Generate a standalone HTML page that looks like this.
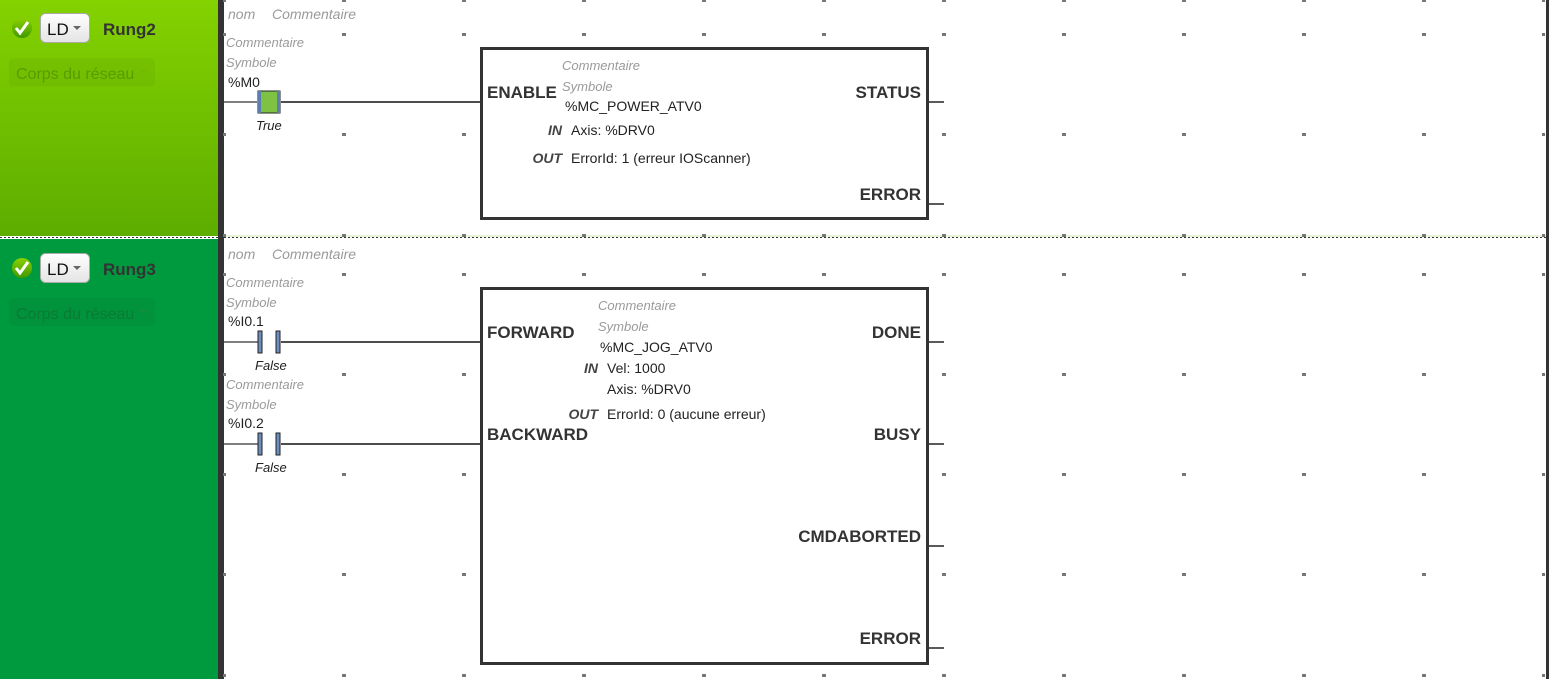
<!DOCTYPE html>
<html><head><meta charset="utf-8"><style>
html,body{margin:0;padding:0;background:#fff;}
svg{display:block;font-family:"Liberation Sans",sans-serif;}
.it{font-style:italic;fill:#9a9a9a;font-size:13px;}
.hd{font-style:italic;fill:#9a9a9a;font-size:14px;}
.tx{fill:#222;font-size:14px;}
.pin{font-weight:bold;fill:#333;font-size:17px;}
.io{font-weight:bold;font-style:italic;fill:#444;font-size:14px;}
</style></head><body>
<svg width="1549" height="679" viewBox="0 0 1549 679">
<defs>
<linearGradient id="g2" x1="0" y1="0" x2="0" y2="1"><stop offset="0" stop-color="#84d200"/><stop offset="1" stop-color="#5dad00"/></linearGradient>
<linearGradient id="cb" x1="0" y1="0" x2="0" y2="1"><stop offset="0" stop-color="#ffffff"/><stop offset="1" stop-color="#e4e4e4"/></linearGradient>
<linearGradient id="ck" x1="0" y1="0" x2="0" y2="1"><stop offset="0" stop-color="#8bd000"/><stop offset="1" stop-color="#3f9a00"/></linearGradient>
</defs>
<rect x="0" y="0" width="218" height="236" fill="url(#g2)"/>
<rect x="0" y="239" width="218" height="440" fill="#009a3e"/>
<rect x="218" y="0" width="6" height="679" fill="#333"/>
<rect x="1546" y="0" width="3" height="679" fill="#333"/>
<line x1="0" y1="237.5" x2="1549" y2="237.5" stroke="#333" stroke-width="1" stroke-dasharray="2,2"/>
<line x1="224" y1="236" x2="1546" y2="236" stroke="#cfe8b0" stroke-width="1"/>

<circle cx="22" cy="28" r="10" fill="url(#ck)"/>
<path d="M16 28 l4 5 l8 -11" stroke="#fff" stroke-width="3" fill="none"/>
<rect x="40.5" y="13.5" width="49" height="29" rx="5" fill="url(#cb)" stroke="#aaa"/>
<text x="47" y="35" font-size="17" fill="#111">LD</text>
<path d="M73 26 h8 l-4 4z" fill="#666"/>
<text x="103" y="35" font-size="17" font-weight="bold" fill="#333">Rung2</text>
<rect x="9" y="58" width="146" height="28" rx="4" fill="#000" opacity="0.04"/>
<text x="16" y="79" font-size="16" fill="#5a9b00">Corps du réseau</text>
<path d="M140 70 h7 l-3.5 3.5z" fill="#76b800"/>

<circle cx="22" cy="268" r="10" fill="url(#ck)"/>
<path d="M16 268 l4 5 l8 -11" stroke="#fff" stroke-width="3" fill="none"/>
<rect x="40.5" y="253.5" width="49" height="29" rx="5" fill="url(#cb)" stroke="#aaa"/>
<text x="47" y="275" font-size="17" fill="#111">LD</text>
<path d="M73 266 h8 l-4 4z" fill="#666"/>
<text x="103" y="275" font-size="17" font-weight="bold" fill="#333">Rung3</text>
<rect x="9" y="298" width="146" height="28" rx="4" fill="#000" opacity="0.04"/>
<text x="16" y="319" font-size="16" fill="#0b7a33">Corps du réseau</text>
<path d="M140 310 h7 l-3.5 3.5z" fill="#1a8a40"/>

<g fill="#777">
<g id="row">
<rect x="223" y="-1" width="3" height="3"/><rect x="342" y="-1" width="4" height="3"/><rect x="462" y="-1" width="4" height="3"/><rect x="582" y="-1" width="4" height="3"/><rect x="702" y="-1" width="4" height="3"/><rect x="822" y="-1" width="4" height="3"/><rect x="942" y="-1" width="4" height="3"/><rect x="1062" y="-1" width="4" height="3"/><rect x="1182" y="-1" width="4" height="3"/><rect x="1302" y="-1" width="4" height="3"/><rect x="1422" y="-1" width="4" height="3"/><rect x="1542" y="-1" width="3" height="3"/>
</g>
<use href="#row" y="34"/><use href="#row" y="134"/><use href="#row" y="235"/>
<use href="#row" y="274"/><use href="#row" y="374"/><use href="#row" y="474"/><use href="#row" y="574"/><use href="#row" y="675"/>
</g>

<text x="228" y="19" class="hd">nom</text><text x="272" y="19" class="hd">Commentaire</text>
<text x="226" y="47" class="it">Commentaire</text>
<text x="226" y="67" class="it">Symbole</text>
<text x="228" y="87" class="tx" font-size="13">%M0</text>
<line x1="224" y1="102" x2="257" y2="102" stroke="#555" stroke-width="1.5"/>
<line x1="281" y1="102" x2="480" y2="102" stroke="#111" stroke-width="1.5"/>
<rect x="258" y="91" width="22" height="22" fill="#7dc242" stroke="#222" stroke-width="1"/>
<rect x="258" y="91" width="3" height="22" fill="#5a7fb0"/><rect x="277" y="91" width="3" height="22" fill="#5a7fb0"/>
<text x="256" y="130" font-size="13" font-style="italic" fill="#222">True</text>

<rect x="481.5" y="48.5" width="446" height="170" fill="#fff" stroke="#333" stroke-width="3"/>
<text x="487" y="98" class="pin">ENABLE</text>
<text x="921" y="98" class="pin" text-anchor="end">STATUS</text>
<text x="921" y="200" class="pin" text-anchor="end">ERROR</text>
<line x1="929" y1="102" x2="944" y2="102" stroke="#222" stroke-width="1.5"/>
<line x1="929" y1="204" x2="944" y2="204" stroke="#222" stroke-width="1.5"/>
<text x="562" y="70" class="it" font-size="12">Commentaire</text>
<text x="562" y="91" class="it" font-size="12">Symbole</text>
<text x="565" y="111" class="tx" font-size="13">%MC_POWER_ATV0</text>
<text x="562" y="135" class="io" text-anchor="end">IN</text>
<text x="571" y="135" class="tx">Axis: %DRV0</text>
<text x="562" y="163" class="io" text-anchor="end">OUT</text>
<text x="571" y="163" class="tx">ErrorId: 1 (erreur IOScanner)</text>

<text x="228" y="259" class="hd">nom</text><text x="272" y="259" class="hd">Commentaire</text>
<text x="226" y="287" class="it">Commentaire</text>
<text x="226" y="307" class="it">Symbole</text>
<text x="228" y="326" class="tx" font-size="13">%I0.1</text>
<line x1="224" y1="342" x2="259" y2="342" stroke="#555" stroke-width="1.5"/>
<line x1="281" y1="342" x2="480" y2="342" stroke="#111" stroke-width="1.5"/>
<rect x="258" y="331" width="4" height="22" fill="#6c8fbf" stroke="#222" stroke-width="1"/>
<rect x="276" y="331" width="4" height="22" fill="#6c8fbf" stroke="#222" stroke-width="1"/>
<text x="255" y="370" font-size="13" font-style="italic" fill="#222">False</text>
<text x="226" y="389" class="it">Commentaire</text>
<text x="226" y="409" class="it">Symbole</text>
<text x="228" y="428" class="tx" font-size="13">%I0.2</text>
<line x1="224" y1="444" x2="259" y2="444" stroke="#555" stroke-width="1.5"/>
<line x1="281" y1="444" x2="480" y2="444" stroke="#111" stroke-width="1.5"/>
<rect x="258" y="433" width="4" height="22" fill="#6c8fbf" stroke="#222" stroke-width="1"/>
<rect x="276" y="433" width="4" height="22" fill="#6c8fbf" stroke="#222" stroke-width="1"/>
<text x="255" y="472" font-size="13" font-style="italic" fill="#222">False</text>

<rect x="481.5" y="288.5" width="446" height="375" fill="#fff" stroke="#333" stroke-width="3"/>
<text x="487" y="338" class="pin">FORWARD</text>
<text x="487" y="440" class="pin">BACKWARD</text>
<text x="921" y="338" class="pin" text-anchor="end">DONE</text>
<text x="921" y="440" class="pin" text-anchor="end">BUSY</text>
<text x="921" y="542" class="pin" text-anchor="end">CMDABORTED</text>
<text x="921" y="644" class="pin" text-anchor="end">ERROR</text>
<line x1="929" y1="342" x2="944" y2="342" stroke="#222" stroke-width="1.5"/>
<line x1="929" y1="444" x2="944" y2="444" stroke="#222" stroke-width="1.5"/>
<line x1="929" y1="546" x2="944" y2="546" stroke="#222" stroke-width="1.5"/>
<line x1="929" y1="648" x2="944" y2="648" stroke="#222" stroke-width="1.5"/>
<text x="598" y="310" class="it" font-size="12">Commentaire</text>
<text x="598" y="331" class="it" font-size="12">Symbole</text>
<text x="600" y="352" class="tx" font-size="13">%MC_JOG_ATV0</text>
<text x="598" y="373" class="io" text-anchor="end">IN</text>
<text x="607" y="373" class="tx">Vel: 1000</text>
<text x="607" y="394" class="tx">Axis: %DRV0</text>
<text x="598" y="419" class="io" text-anchor="end">OUT</text>
<text x="607" y="419" class="tx">ErrorId: 0 (aucune erreur)</text>
</svg>
</body></html>
